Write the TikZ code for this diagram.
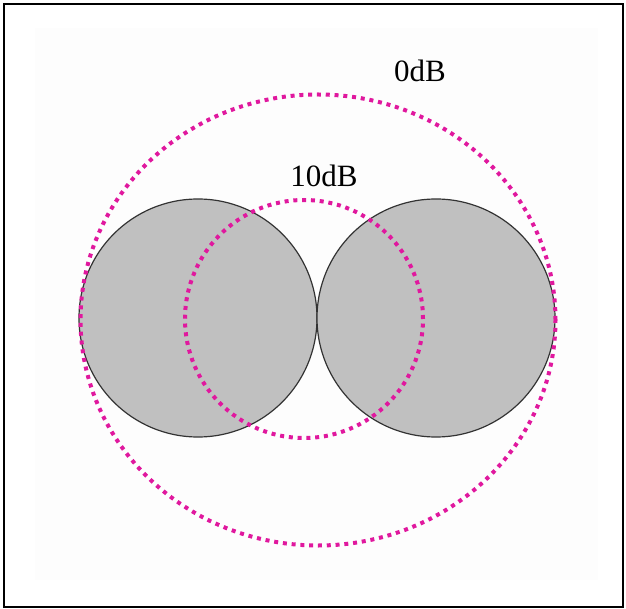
\documentclass[tikz,border=0pt]{standalone}
\usepackage{fontspec}
\setmainfont{Liberation Serif}
\usetikzlibrary{shapes.geometric}
\definecolor{dotpink}{HTML}{E0189E}
\definecolor{lobegray}{HTML}{C0C0C0}
\definecolor{panel}{HTML}{FDFDFD}
\begin{document}
\begin{tikzpicture}[x=1pt,y=-1pt,
  lobe/.style={circle, draw=black!80, fill=lobegray, line width=1.2pt, minimum size=238pt, inner sep=0pt},
  ring/.style={draw=dotpink, line width=4pt, dash pattern=on 4pt off 4.8pt, inner sep=0pt},
  lbl/.style={font=\fontsize{31}{31}\selectfont, inner sep=0pt, anchor=base}]
\useasboundingbox (0,0) rectangle (626,609);
\fill[white] (0,0) rectangle (626,609);
\fill[panel] (35,28) rectangle (598,580);
\draw[line width=2pt] (4,4) rectangle (623,607);
\node[lobe] (left) at (198,318) {};
\node[lobe] (right) at (436,318) {};
\node[ring, ellipse, minimum width=475pt, minimum height=451pt] (outer) at (318,320) {};
\node[ring, circle, minimum size=238pt] (inner) at (304,319) {};
\node[lbl] (zero) at (420,82) {0dB};
\node[lbl] (ten) at (324,187) {10dB};
\end{tikzpicture}
\end{document}
